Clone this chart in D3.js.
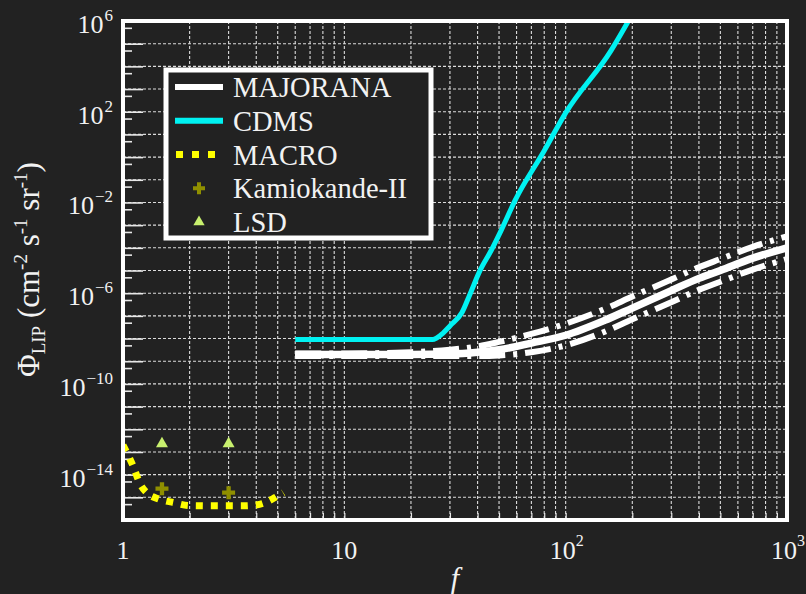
<!DOCTYPE html>
<html>
<head>
<meta charset="utf-8">
<script src="https://cdn.jsdelivr.net/npm/d3@7"></script>
<style>
body{margin:0;background:#222;}
svg{display:block;}
text{font-family:"Liberation Serif","Times New Roman",serif;fill:#f2f2f2;}
</style>
</head>
<body>
<svg id="chart" width="806" height="594"></svg>
<script>
//values

//MAJORANA: central curve and the two dash-dot band edges
var majoranaF = [6, 10, 20, 30, 40, 50, 70, 100, 150, 200, 300, 400, 500, 700, 1000];
var majoranaMid = [2e-9, 2e-9, 2e-9, 2.1e-9, 2.5e-9, 3.2e-9, 6.3e-9, 1.4e-8, 6.3e-8, 2.2e-7, 1.3e-6, 4.5e-6, 1e-5, 3.5e-5, 1e-4];
var majoranaHigh = [2.2e-9, 2.2e-9, 2.5e-9, 3.2e-9, 4.5e-9, 7.1e-9, 1.6e-8, 4.5e-8, 2e-7, 7.1e-7, 4e-6, 1.4e-5, 3.2e-5, 1.1e-4, 3.2e-4];
var majoranaLow = [1.7e-9, 1.7e-9, 1.7e-9, 1.7e-9, 1.7e-9, 1.8e-9, 2.5e-9, 5e-9, 2e-8, 7.1e-8, 4e-7, 1.4e-6, 3.2e-6, 1.1e-5, 3.2e-5];

//CDMS
var cdmsF = [6, 10, 20, 25, 28, 30, 34, 37, 41, 46, 51, 59, 80, 100, 160, 200];
var cdmsFlux = [9e-9, 9e-9, 9e-9, 9e-9, 1.8e-8, 3.6e-8, 1.4e-7, 9.3e-7, 9.8e-6, 7.4e-5, 5.6e-4, 1.2e-2, 1.9, 89, 4.8e4, 2e6];

//MACRO
var macroF = [1, 1.1, 1.2, 1.3, 1.45, 1.7, 2, 2.5, 3, 3.5, 4, 4.5, 5, 5.3];
var macroFlux = [2e-13, 3e-14, 3.6e-15, 1.4e-15, 8.5e-16, 5.8e-16, 4.3e-16, 4.2e-16, 4.2e-16, 4.2e-16, 4.6e-16, 6.5e-16, 1.15e-15, 1.6e-15];

//Kamiokande-II and LSD points
var kamiokandeF = [1.5, 3];
var kamiokandeFlux = [2.4e-15, 1.6e-15];
var lsdF = [1.5, 3];
var lsdFlux = [2.3e-13, 2.3e-13];

//tick labels
var yLabelExp = [6, 2, -2, -6, -10, -14];
var xLabels = [{v: 1, base: "1", sup: ""}, {v: 10, base: "10", sup: ""}, {v: 100, base: "10", sup: "2"}, {v: 1000, base: "10", sup: "3"}];

var legendNames = ["MAJORANA", "CDMS", "MACRO", "Kamiokande-II", "LSD"];

//Plot frame
var frameL = 123, frameR = 787, frameT = 21, frameB = 520;

var svg = d3.select("#chart");
svg.append("rect").attr("width", 806).attr("height", 594).attr("fill", "#222");

var xScale = d3.scaleLog().domain([1, 1000]).range([frameL, frameR]);
var yScale = d3.scaleLog().domain([1e-16, 1e6]).range([frameB, frameT]);

//Clip for data
svg.append("clipPath").attr("id", "plotclip")
    .append("rect").attr("x", frameL).attr("y", frameT)
    .attr("width", frameR - frameL).attr("height", frameB - frameT);

//Grid values
var xGrid = [];
[1, 10, 100].forEach(function(d){
    for (var k = 1; k <= 9; k++){
        var v = k * d;
        if (v > 1 && v < 1000) xGrid.push(v);
    }
});
var yMajor = [];
var yMinor = [];
for (var e = -15; e <= 5; e++) yMajor.push(Math.pow(10, e));
for (var e2 = -15; e2 <= 6; e2++) yMinor.push(0.5 * Math.pow(10, e2));

var grid = svg.append("g");
grid.selectAll("line.vg").data(xGrid).enter().append("line")
    .attr("x1", function(d){ return xScale(d); })
    .attr("x2", function(d){ return xScale(d); })
    .attr("y1", frameT).attr("y2", frameB)
    .attr("stroke", "#dcdcdc").attr("stroke-width", 1.1)
    .attr("stroke-dasharray", "3,2");
grid.selectAll("line.hg").data(yMajor).enter().append("line")
    .attr("x1", frameL).attr("x2", frameR)
    .attr("y1", function(d){ return yScale(d); })
    .attr("y2", function(d){ return yScale(d); })
    .attr("stroke", "#dcdcdc").attr("stroke-width", 1.1)
    .attr("stroke-dasharray", "3,2");

//Inner ticks on the left side
var majorTicks = d3.axisRight(yScale).tickValues(yMajor).tickSize(20).tickFormat("");
var minorTicks = d3.axisRight(yScale).tickValues(yMinor).tickSize(9).tickFormat("");
[majorTicks, minorTicks].forEach(function(ax){
    var g = svg.append("g").attr("transform", "translate(" + frameL + ",0)").call(ax);
    g.select(".domain").remove();
    g.selectAll("line").attr("stroke", "#e8e8e8").attr("stroke-width", 1.6);
});
//Inner ticks at bottom
var xTicks = d3.axisTop(xScale).tickValues(xGrid).tickSize(7).tickFormat("");
var gx = svg.append("g").attr("transform", "translate(0," + frameB + ")").call(xTicks);
gx.select(".domain").remove();
gx.selectAll("line").attr("stroke", "#e8e8e8").attr("stroke-width", 1.2);

//Data
var plot = svg.append("g").attr("clip-path", "url(#plotclip)");

function makeLine(xs, ys){
    var pts = xs.map(function(d, i){ return [xScale(d), yScale(ys[i])]; });
    return d3.line().curve(d3.curveMonotoneX)(pts);
}

//MAJORANA band edges (dash-dot) and central curve
[majoranaLow, majoranaHigh].forEach(function(arr){
    plot.append("path").attr("d", makeLine(majoranaF, arr))
        .attr("fill", "none").attr("stroke", "#fff").attr("stroke-width", 6)
        .attr("stroke-dasharray", "26,8,4,8");
});
plot.append("path").attr("d", makeLine(majoranaF, majoranaMid))
    .attr("fill", "none").attr("stroke", "#fff").attr("stroke-width", 7.5);

//CDMS
plot.append("path").attr("d", makeLine(cdmsF, cdmsFlux))
    .attr("fill", "none").attr("stroke", "#00f2f2").attr("stroke-width", 5);

//MACRO
plot.append("path").attr("d", makeLine(macroF, macroFlux))
    .attr("fill", "none").attr("stroke", "#ffff00").attr("stroke-width", 7)
    .attr("stroke-dasharray", "7,8");

//Kamiokande-II
plot.selectAll("path.kam").data(kamiokandeF).enter().append("path")
    .attr("d", d3.symbol().type(d3.symbolCross).size(94))
    .attr("transform", function(d, i){ return "translate(" + xScale(d) + "," + yScale(kamiokandeFlux[i]) + ")"; })
    .attr("fill", "#8f8f00");

//LSD
plot.selectAll("path.lsd").data(lsdF).enter().append("path")
    .attr("d", d3.symbol().type(d3.symbolTriangle).size(62))
    .attr("transform", function(d, i){ return "translate(" + xScale(d) + "," + yScale(lsdFlux[i]) + ")"; })
    .attr("fill", "#c8f06e");

//Frame
svg.append("rect").attr("x", frameL).attr("y", frameT)
    .attr("width", frameR - frameL).attr("height", frameB - frameT)
    .attr("fill", "none").attr("stroke", "#fff").attr("stroke-width", 4);

//Y tick labels
svg.selectAll("text.ylab").data(yLabelExp).enter().append("text")
    .attr("x", 113)
    .attr("y", function(d){ return yScale(Math.pow(10, d)) + 12; })
    .attr("text-anchor", "end")
    .attr("font-size", 26)
    .each(function(d){
        var t = d3.select(this);
        t.append("tspan").text("10");
        t.append("tspan").attr("dy", -12).attr("dx", 1).attr("font-size", 17)
            .text(d < 0 ? "\u2212" + Math.abs(d) : String(d));
    });

//X tick labels (base centred on the tick, exponent hanging right)
xLabels.forEach(function(d){
    var x = xScale(d.v);
    var t = svg.append("text").attr("y", 559).attr("font-size", 26);
    if (!d.sup){
        t.attr("x", x).attr("text-anchor", "middle").text(d.base);
    } else {
        t.attr("x", x - 16);
        t.append("tspan").text(d.base);
        t.append("tspan").attr("dy", -13).attr("font-size", 16).text(d.sup);
    }
});

//Axis titles
var yt = svg.append("text")
    .attr("transform", "translate(39,377) rotate(-90)")
    .attr("font-size", 31);
yt.append("tspan").text("\u03A6");
yt.append("tspan").attr("font-size", 19).attr("dy", 6).text("LIP");
yt.append("tspan").attr("dy", -6).text(" (cm");
yt.append("tspan").attr("font-size", 19).attr("dy", -12).text("-2");
yt.append("tspan").attr("dy", 12).text(" s");
yt.append("tspan").attr("font-size", 19).attr("dy", -12).text("-1");
yt.append("tspan").attr("dy", 12).text(" sr");
yt.append("tspan").attr("font-size", 19).attr("dy", -12).text("-1");
yt.append("tspan").attr("dy", 12).text(")");

svg.append("text").attr("x", 455).attr("y", 588)
    .attr("text-anchor", "middle").attr("font-size", 30)
    .attr("font-style", "italic").text("f");

//Legend
var lg = svg.append("g");
lg.append("rect").attr("x", 166).attr("y", 70).attr("width", 265).attr("height", 168)
    .attr("fill", "#222").attr("stroke", "#fff").attr("stroke-width", 5);

var rowY = d3.scalePoint().domain(legendNames).range([87, 222]);

lg.append("line").attr("x1", 175).attr("x2", 223)
    .attr("y1", rowY("MAJORANA")).attr("y2", rowY("MAJORANA"))
    .attr("stroke", "#fff").attr("stroke-width", 6);
lg.append("line").attr("x1", 175).attr("x2", 223)
    .attr("y1", rowY("CDMS")).attr("y2", rowY("CDMS"))
    .attr("stroke", "#00f2f2").attr("stroke-width", 6);
lg.append("line").attr("x1", 176).attr("x2", 216)
    .attr("y1", rowY("MACRO")).attr("y2", rowY("MACRO"))
    .attr("stroke", "#ffff00").attr("stroke-width", 7).attr("stroke-dasharray", "7,9");
lg.append("path").attr("d", d3.symbol().type(d3.symbolCross).size(80))
    .attr("transform", "translate(199," + rowY("Kamiokande-II") + ")")
    .attr("fill", "#8f8f00");
lg.append("path").attr("d", d3.symbol().type(d3.symbolTriangle).size(55))
    .attr("transform", "translate(199," + rowY("LSD") + ")")
    .attr("fill", "#c8f06e");

lg.selectAll("text.lt").data(legendNames).enter().append("text")
    .attr("x", 233)
    .attr("y", function(d){ return rowY(d) + 10; })
    .attr("font-size", 28.5)
    .text(function(d){ return d; });
</script>
</body>
</html>
